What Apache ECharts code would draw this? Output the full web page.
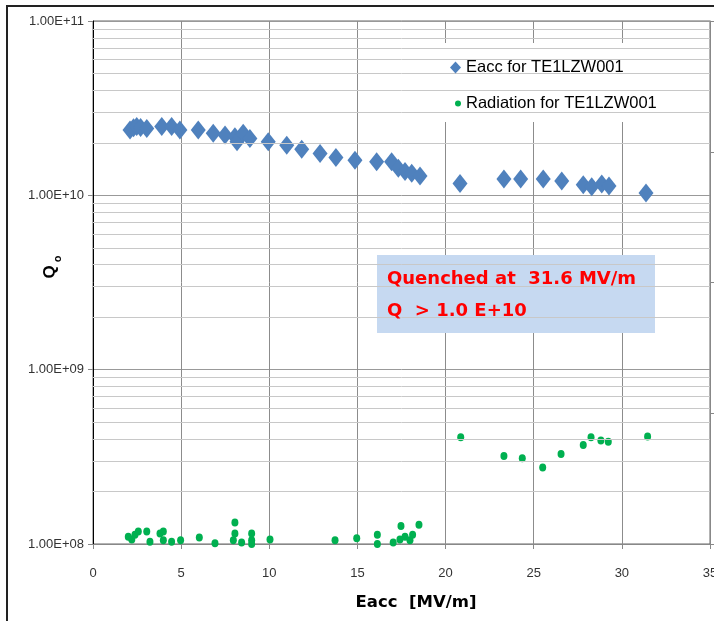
<!DOCTYPE html>
<html>
<head>
<meta charset="utf-8">
<script src="https://cdn.jsdelivr.net/npm/echarts@6/dist/echarts.min.js"></script>
<style>
html,body{margin:0;padding:0;background:#fff;overflow:hidden;}
#chart{width:714px;height:621px;}
</style>
</head>
<body>
<div id="chart"></div>
<script>
// Eacc series (Q0 vs Eacc)
var eaccE = [2.10, 2.30, 2.48, 2.70, 3.05, 3.90, 4.46, 4.93, 5.97, 6.82, 7.49, 8.05, 8.17, 8.52, 8.90, 9.94, 10.99, 11.84, 12.88, 13.78, 14.86, 16.09, 16.94, 17.32, 17.70, 18.08, 18.55, 20.82, 23.31, 24.26, 25.54, 26.59, 27.81, 28.29, 28.86, 29.27, 31.37];
var eaccQ = [2.37e10, 2.44e10, 2.48e10, 2.45e10, 2.42e10, 2.48e10, 2.48e10, 2.37e10, 2.37e10, 2.27e10, 2.22e10, 2.17e10, 2.03e10, 2.27e10, 2.12e10, 2.03e10, 1.94e10, 1.84e10, 1.74e10, 1.65e10, 1.59e10, 1.56e10, 1.56e10, 1.43e10, 1.37e10, 1.34e10, 1.29e10, 1.17e10, 1.24e10, 1.24e10, 1.24e10, 1.21e10, 1.15e10, 1.12e10, 1.16e10, 1.13e10, 1.03e10];
// Radiation series
var radE = [2.00, 2.20, 2.38, 2.57, 3.05, 3.23, 3.80, 3.99, 3.99, 4.46, 4.97, 6.03, 6.92, 8.05, 8.05, 7.96, 8.43, 9.00, 9.00, 9.00, 10.04, 13.73, 14.96, 16.13, 16.13, 17.03, 17.41, 17.70, 17.47, 17.98, 18.13, 18.49, 20.86, 23.31, 24.35, 25.51, 26.55, 27.81, 28.25, 28.81, 29.23, 31.46];
var radQ = [1.10e8, 1.06e8, 1.13e8, 1.18e8, 1.18e8, 1.03e8, 1.15e8, 1.18e8, 1.05e8, 1.03e8, 1.05e8, 1.09e8, 1.01e8, 1.33e8, 1.15e8, 1.05e8, 1.02e8, 1.15e8, 1.05e8, 1.00e8, 1.06e8, 1.05e8, 1.08e8, 1.13e8, 1.00e8, 1.02e8, 1.06e8, 1.10e8, 1.27e8, 1.05e8, 1.13e8, 1.29e8, 4.09e8, 3.20e8, 3.10e8, 2.75e8, 3.28e8, 3.70e8, 4.09e8, 3.92e8, 3.86e8, 4.13e8];
var seriesNames = ['Eacc for TE1LZW001', 'Radiation for TE1LZW001'];
var xTicks = {min: 0, max: 35, interval: 5};
var yRange = {min: 1e8, max: 1e11};
var noteLines = ['Quenched at  31.6 MV/m', 'Q  > 1.0 E+10'];
var xTitle = 'Eacc  [MV/m]';

function zip(a, b) { return a.map(function (v, i) { return [v, b[i]]; }); }
function fmtE(v) {
  var e = Math.round(Math.log10(v));
  var m = v / Math.pow(10, e);
  var s = Math.abs(e) < 10 ? '0' + Math.abs(e) : '' + Math.abs(e);
  return m.toFixed(2) + 'E' + (e < 0 ? '-' : '+') + s;
}
var minorLines = [];
for (var d = 8; d < 11; d++) {
  for (var m = 2; m <= 9; m++) minorLines.push({yAxis: m * Math.pow(10, d)});
}
var FONT = '"Liberation Sans", Arial, sans-serif';
var BOLDFONT = '"DejaVu Sans", "Liberation Sans", Arial, sans-serif';

var chart = echarts.init(document.getElementById('chart'), null, {renderer: 'canvas'});
chart.setOption({
  animation: false,
  backgroundColor: '#ffffff',
  grid: {left: 93, top: 21, right: 4, bottom: 77, show: true, borderColor: '#666', borderWidth: 1,
    containLabel: false, outerBoundsMode: 'none'},
  xAxis: {
    type: 'value', min: xTicks.min, max: xTicks.max, interval: xTicks.interval,
    axisLine: {lineStyle: {color: '#888', width: 1}},
    axisTick: {show: true, length: 5, lineStyle: {color: '#888'}},
    splitLine: {show: true, lineStyle: {color: '#8c8c8c', width: 1}},
    axisLabel: {margin: 23, fontSize: 13, color: '#333', fontFamily: FONT, showMaxLabel: true, hideOverlap: false},
    name: xTitle, nameLocation: 'middle', nameGap: 50,
    nameTextStyle: {fontWeight: 'bold', fontSize: 16.5, color: '#000', fontFamily: BOLDFONT, padding: [0, 0, 0, 29]}
  },
  yAxis: [{
    type: 'log', logBase: 10, min: yRange.min, max: yRange.max, splitNumber: 3,
    axisLine: {show: true, lineStyle: {color: '#000', width: 1}},
    axisTick: {show: true, length: 5, lineStyle: {color: '#888'}},
    splitLine: {show: true, lineStyle: {color: '#999', width: 1}},
    axisLabel: {margin: 9, fontSize: 13, color: '#333', fontFamily: FONT, formatter: fmtE}
  }, {
    type: 'value', position: 'right', min: 0, max: 4, interval: 1,
    axisLine: {show: true, lineStyle: {color: '#888'}},
    axisTick: {show: true, length: 4, lineStyle: {color: '#888'}},
    axisLabel: {show: false}, splitLine: {show: false}
  }],
  legend: [{
    orient: 'vertical', left: 450, top: 59, padding: 0, z: 6,
    itemWidth: 11, itemHeight: 12,
    data: [{name: seriesNames[0], icon: 'diamond'}],
    textStyle: {fontSize: 16.5, color: '#000', fontFamily: FONT}
  }, {
    orient: 'vertical', left: 455, top: 95, padding: 0, z: 6,
    itemWidth: 6, itemHeight: 7,
    data: [{name: seriesNames[1], icon: 'circle'}],
    textStyle: {fontSize: 16.5, color: '#000', fontFamily: FONT}
  }],
  graphic: [
    {type: 'rect', z: 3, shape: {x: 427, y: 43, width: 263, height: 79}, style: {fill: '#ffffff'}},
    {type: 'rect', z: 5, shape: {x: 377, y: 255, width: 278, height: 78}, style: {fill: '#c6d9f1'}},
    {type: 'text', z: 6, x: 387, y: 279, style: {text: noteLines[0], fill: '#ff0000', font: 'bold 18px ' + BOLDFONT, verticalAlign: 'middle'}},
    {type: 'text', z: 6, x: 387, y: 311, style: {text: noteLines[1], fill: '#ff0000', font: 'bold 18px ' + BOLDFONT, verticalAlign: 'middle'}},
    {type: 'text', z: 6, x: 50, y: 272, rotation: Math.PI / 2, style: {text: 'Q', fill: '#000', font: 'bold 17px ' + FONT, align: 'center', verticalAlign: 'middle'}},
    {type: 'text', z: 6, x: 58, y: 259, rotation: Math.PI / 2, style: {text: 'o', fill: '#000', font: 'bold 11px ' + FONT, align: 'center', verticalAlign: 'middle'}},
    {type: 'rect', z: 10, shape: {x: 7, y: 6, width: 800, height: 700}, style: {fill: 'none', stroke: '#222', lineWidth: 2}}
  ],
  series: [{
    name: '_minor', type: 'line', data: [], z: 1, silent: true,
    markLine: {silent: true, symbol: ['none', 'none'], label: {show: false}, animation: false,
      lineStyle: {color: '#c8c8c8', width: 1, type: 'solid'}, data: minorLines}
  }, {
    name: seriesNames[0], type: 'scatter', z: 2, symbol: 'diamond', symbolSize: [15, 19],
    itemStyle: {color: '#4f81bd', opacity: 1}, data: zip(eaccE, eaccQ)
  }, {
    name: seriesNames[1], type: 'scatter', z: 2, symbol: 'circle', symbolSize: [7, 8],
    itemStyle: {color: '#00b050', opacity: 1}, data: zip(radE, radQ)
  }]
});
</script>
</body>
</html>
